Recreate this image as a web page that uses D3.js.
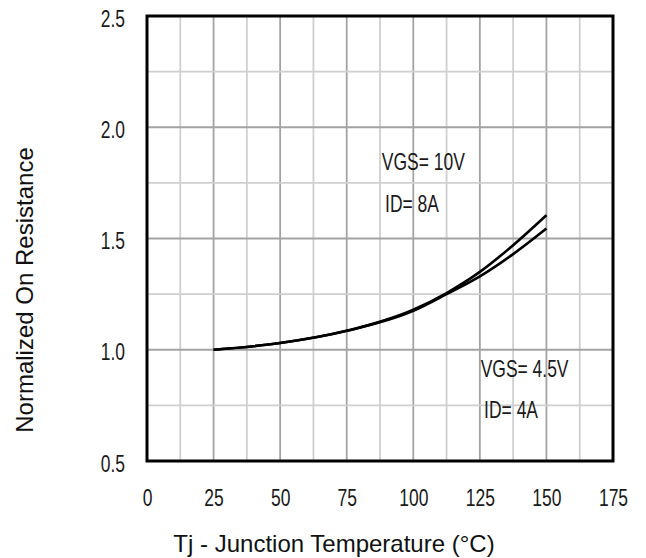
<!DOCTYPE html>
<html>
<head>
<meta charset="utf-8">
<script src="https://cdn.jsdelivr.net/npm/d3@7"></script>
<style>
    body { margin: 0; background: #fff; }
    svg { display: block; }
    .tick-label, .note { font-family: 'Liberation Sans', Arial, sans-serif; font-size: 23px; fill: #1a1a1a; }
    .axis-title { font-family: 'Liberation Sans', Arial, sans-serif; font-size: 24px; fill: #111; }
</style>
</head>
<body>
<svg id="chart"></svg>
<script>
// temperature points (deg C)
const tempC = [25, 50, 75, 100, 112.5, 125, 137.5, 150];
// normalized on-resistance for the two test conditions
const rdsVgs10 = [1.0, 1.03, 1.085, 1.18, 1.255, 1.35, 1.47, 1.605];
const rdsVgs45 = [1.0, 1.03, 1.085, 1.175, 1.25, 1.33, 1.43, 1.545];

const xTicks = [0, 25, 50, 75, 100, 125, 150, 175];
const yTicks = [0.5, 1.0, 1.5, 2.0, 2.5];

// annotation text, anchored in data units
const notes = [
    { text: 'VGS= 10V', x: 88.2, y: 1.81 },
    { text: 'ID= 8A', x: 89.4, y: 1.62 },
    { text: 'VGS= 4.5V', x: 125.3, y: 0.879 },
    { text: 'ID= 4A', x: 126.6, y: 0.693 }
];

class TempChart {
    constructor(svgID) {
        this.width = 646;
        this.height = 558;
        this.margin = { top: 16, right: 33, bottom: 97, left: 147 };
        this.svg = d3.select('#' + svgID)
            .attr('width', this.width)
            .attr('height', this.height);
        this.draw();
    }

    draw() {
        let m = this.margin;
        let w = this.width - m.left - m.right;
        let h = this.height - m.top - m.bottom;
        let narrow = 0.76;

        this.xScale = d3.scaleLinear().domain([0, 175]).range([0, w]);
        this.yScale = d3.scaleLinear().domain([0.5, 2.5]).range([h, 0]);

        let g = this.svg.append('g').attr('transform', 'translate(' + m.left + ',' + m.top + ')');

        // grid: every half step, darker on the labelled values
        let xGrid = d3.range(0, 175.01, 12.5);
        let yGrid = d3.range(0.5, 2.501, 0.25);
        let isMajorX = v => Math.abs(v % 25) < 1e-6;
        let isMajorY = v => Math.abs((v * 2) % 1) < 1e-6;

        g.append('g').selectAll('line').data(xGrid).enter().append('line')
            .attr('x1', d => this.xScale(d)).attr('x2', d => this.xScale(d))
            .attr('y1', 0).attr('y2', h)
            .attr('stroke', d => isMajorX(d) ? '#a3a3a3' : '#cfcfcf')
            .attr('stroke-width', 1.8);
        g.append('g').selectAll('line').data(yGrid).enter().append('line')
            .attr('x1', 0).attr('x2', w)
            .attr('y1', d => this.yScale(d)).attr('y2', d => this.yScale(d))
            .attr('stroke', d => isMajorY(d) ? '#a3a3a3' : '#cfcfcf')
            .attr('stroke-width', 1.8);

        // curves
        let line = d3.line()
            .x(d => this.xScale(d[0]))
            .y(d => this.yScale(d[1]))
            .curve(d3.curveMonotoneX);
        [rdsVgs10, rdsVgs45].forEach(series => {
            g.append('path')
                .datum(tempC.map((t, i) => [t, series[i]]))
                .attr('d', line)
                .attr('fill', 'none')
                .attr('stroke', '#000')
                .attr('stroke-width', 2.6);
        });

        // frame
        g.append('rect')
            .attr('x', 0).attr('y', 0)
            .attr('width', w).attr('height', h)
            .attr('fill', 'none')
            .attr('stroke', '#000')
            .attr('stroke-width', 3);

        // axes (labels only, the frame carries the lines)
        let xAxis = d3.axisBottom(this.xScale).tickValues(xTicks).tickSize(0).tickPadding(0);
        let yAxis = d3.axisLeft(this.yScale).tickValues(yTicks).tickSize(0).tickFormat(d3.format('.1f'));

        let xa = g.append('g').attr('transform', 'translate(0,' + h + ')').call(xAxis);
        xa.select('.domain').remove();
        xa.selectAll('.tick text')
            .attr('class', 'tick-label')
            .attr('y', 0).attr('dy', 0)
            .attr('text-anchor', 'middle')
            .attr('transform', 'translate(0,45) scale(' + narrow + ',1)')
            .attr('fill', null);

        let ya = g.append('g').call(yAxis);
        ya.select('.domain').remove();
        ya.selectAll('.tick text')
            .attr('class', 'tick-label')
            .attr('x', 0).attr('dy', '0.35em')
            .attr('text-anchor', 'end')
            .attr('transform', 'translate(-22,2) scale(' + narrow + ',1)')
            .attr('fill', null);
        xa.attr('font-size', null).attr('font-family', null);
        ya.attr('font-size', null).attr('font-family', null);

        // annotations
        g.append('g').selectAll('text').data(notes).enter().append('text')
            .attr('class', 'note')
            .attr('transform', d => 'translate(' + this.xScale(d.x) + ',' + this.yScale(d.y) + ') scale(' + narrow + ',1)')
            .text(d => d.text);

        // axis titles
        this.svg.append('text').attr('class', 'axis-title')
            .attr('x', 334).attr('y', 552)
            .attr('text-anchor', 'middle')
            .text('Tj - Junction Temperature (°C)');
        this.svg.append('text').attr('class', 'axis-title')
            .attr('transform', 'translate(33,290) rotate(-90)')
            .attr('text-anchor', 'middle')
            .text('Normalized On Resistance');
    }
}

new TempChart('chart');
</script>
</body>
</html>
